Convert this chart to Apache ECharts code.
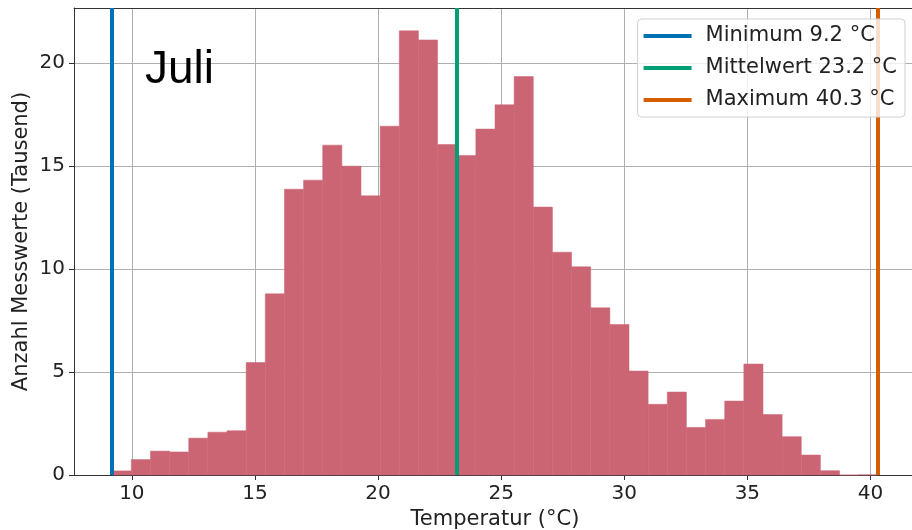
<!DOCTYPE html>
<html>
<head>
<meta charset="utf-8">
<script src="https://cdn.jsdelivr.net/npm/echarts@6/dist/echarts.min.js"></script>
<style>
  html, body { margin: 0; padding: 0; background: #fff; }
  #chart { width: 912px; height: 530px; }
</style>
</head>
<body>
<div id="chart"></div>
<script>
// Histogramm Juli: 40 Klassen zwischen Minimum und Maximum
var tMin = 9.2
var tMean = 23.2
var tMax = 40.3
var binCount = 40
// Anzahl Messwerte je Klasse (Tausend)
var counts = [
  0.2, 0.75, 1.16, 1.12, 1.79, 2.08, 2.15, 5.46, 8.8, 13.88,
  14.32, 16.02, 15.0, 13.56, 16.94, 21.57, 21.13, 16.05, 15.52, 16.8,
  17.98, 19.35, 13.01, 10.82, 10.11, 8.12, 7.31, 5.05, 3.43, 4.03,
  2.31, 2.7, 3.59, 5.39, 2.94, 1.86, 0.97, 0.21, 0, 0.01
]
var lineNames = ['Minimum 9.2 °C', 'Mittelwert 23.2 °C', 'Maximum 40.3 °C']
var lineValues = [tMin, tMean, tMax]
var lineColors = ['#0072b2', '#009e73', '#d55e00']

var binWidth = (tMax - tMin) / binCount
var bins = counts.map(function (c, i) {
  return [tMin + i * binWidth, tMin + (i + 1) * binWidth, c]
})

var myChart = echarts.init(document.getElementById('chart'))

var series = [{
  type: 'custom',
  name: 'hist',
  data: bins,
  encode: { x: [0, 1], y: 2 },
  z: 2,
  renderItem: function (params, api) {
    var p0 = api.coord([api.value(0), api.value(2)])
    var p1 = api.coord([api.value(1), 0])
    return {
      type: 'rect',
      shape: { x: p0[0], y: p0[1], width: p1[0] - p0[0], height: p1[1] - p0[1] },
      style: { fill: '#cb6574', stroke: '#cb6574', lineWidth: 0.5 }
    }
  }
}]
lineNames.forEach(function (n, i) {
  series.push({
    type: 'line',
    name: n,
    data: [],
    color: lineColors[i],
    z: 3,
    markLine: {
      silent: true,
      z: 3,
      symbol: 'none',
      label: { show: false },
      lineStyle: { color: lineColors[i], width: 4, type: 'solid' },
      data: [{ xAxis: lineValues[i] }]
    }
  })
})

var tickFmt = function (v) { return v % 5 === 0 ? String(v) : '' }

const option = {
  animation: false,
  textStyle: { fontFamily: 'DejaVu Sans' },
  grid: {
    left: 74, width: 842, top: 8, bottom: 55,
    outerBoundsMode: 'none',
    containLabel: false
  },
  xAxis: [{
    type: 'value',
    min: 7.65,
    max: 41.85,
    name: 'Temperatur (°C)',
    nameLocation: 'middle',
    nameGap: 34,
    nameMoveOverlap: false,
    nameTextStyle: { fontSize: 21, color: '#222' },
    axisLine: { onZero: false, lineStyle: { color: '#333' } },
    axisTick: { show: true, length: 5, lineStyle: { color: '#333' } },
    axisLabel: {
      fontSize: 20, color: '#222', margin: 9,
      showMinLabel: false, showMaxLabel: false,
      formatter: tickFmt
    },
    splitLine: { show: true, lineStyle: { color: '#b0b0b0', width: 1 } }
  }, {
    // obere Rahmenlinie
    type: 'value',
    position: 'top',
    min: 7.65,
    max: 41.85,
    axisLine: { show: true, onZero: false, lineStyle: { color: '#333' } },
    axisTick: { show: false },
    axisLabel: { show: false },
    splitLine: { show: false }
  }],
  yAxis: {
    type: 'value',
    min: 0,
    max: 22.68,
    name: 'Anzahl Messwerte (Tausend)',
    nameLocation: 'middle',
    nameGap: 42,
    nameMoveOverlap: false,
    nameTextStyle: { fontSize: 21, color: '#222' },
    axisLine: { show: true, lineStyle: { color: '#333' } },
    axisTick: { show: true, length: 5, lineStyle: { color: '#333' } },
    axisLabel: {
      fontSize: 20, color: '#222', margin: 9,
      showMaxLabel: false,
      formatter: tickFmt
    },
    splitLine: { show: true, lineStyle: { color: '#b0b0b0', width: 1 } }
  },
  legend: {
    data: lineNames,
    orient: 'vertical',
    right: 7,
    top: 19,
    zlevel: 1,
    icon: 'rect',
    itemWidth: 48,
    itemHeight: 4,
    itemGap: 10,
    padding: [6, 8, 6, 6],
    backgroundColor: 'rgba(255,255,255,0.8)',
    borderColor: '#d0d0d0',
    borderWidth: 1,
    borderRadius: 4,
    textStyle: { fontSize: 21, lineHeight: 22, color: '#222', padding: [0, 0, 0, 9] }
  },
  graphic: [{
    type: 'text',
    left: 145,
    top: 47,
    z: 10,
    style: { text: 'Juli', font: '46px "Liberation Sans"', fill: '#000' }
  }],
  series: series
}
myChart.setOption(option)
</script>
</body>
</html>
